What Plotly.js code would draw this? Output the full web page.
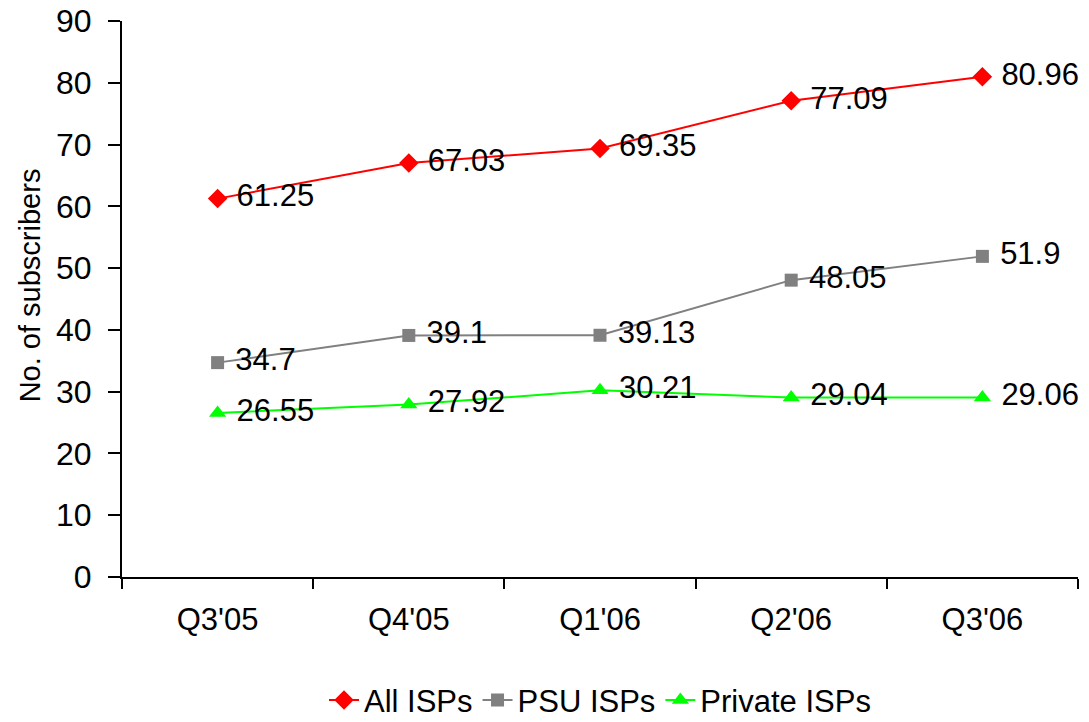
<!DOCTYPE html>
<html>
<head>
<meta charset="utf-8">
<script src="https://cdn.plot.ly/plotly-3.0.1.min.js"></script>
<style>html,body{margin:0;padding:0;background:#fff;}#chart{width:1089px;height:722px;}</style>
</head>
<body>
<div id="chart"></div>
<script>
var quarters = ["Q3'05", "Q4'05", "Q1'06", "Q2'06", "Q3'06"];
var allISPs = [61.25, 67.03, 69.35, 77.09, 80.96];
var psuISPs = [34.7, 39.1, 39.13, 48.05, 51.9];
var privateISPs = [26.55, 27.92, 30.21, 29.04, 29.06];
var yTicks = [0, 10, 20, 30, 40, 50, 60, 70, 80, 90];

var FONT = "Arial, 'Liberation Sans', sans-serif";

function series(name, vals, color, symbol, size) {
  return {
    type: 'scatter',
    mode: 'lines+markers+text',
    name: name,
    x: quarters,
    y: vals,
    text: vals.map(function (v) { return String(v); }),
    texttemplate: ' %{text}',
    textposition: 'middle right',
    textfont: {family: FONT, size: 31, color: '#000'},
    line: {color: color, width: 2},
    marker: {color: color, symbol: symbol, size: size},
    cliponaxis: false
  };
}

var data = [
  series('All ISPs', allISPs, '#FF0000', 'diamond', 15),
  series('PSU ISPs', psuISPs, '#808080', 'square', 13),
  series('Private ISPs', privateISPs, '#00FF00', 'triangle-up', 15)
];

var layout = {
  width: 1089,
  height: 722,
  margin: {l: 122, r: 11, t: 21, b: 145, autoexpand: false},
  paper_bgcolor: '#fff',
  plot_bgcolor: '#fff',
  font: {family: FONT, size: 30, color: '#000'},
  showlegend: true,
  legend: {
    orientation: 'h',
    x: 0.5, xanchor: 'center',
    y: -0.222, yanchor: 'middle',
    font: {family: FONT, size: 31, color: '#000'},
    traceorder: 'normal'
  },
  xaxis: {
    type: 'category',
    range: [-0.5, 4.5],
    showline: true, linecolor: '#000', linewidth: 2,
    showgrid: false, zeroline: false,
    ticks: 'outside', ticklen: 10, tickwidth: 2, tickcolor: '#000',
    tickson: 'boundaries',
    tickfont: {family: FONT, size: 31, color: '#000'},
    ticklabelstandoff: 14,
    automargin: false,
    fixedrange: true
  },
  yaxis: {
    range: [0, 90],
    tickvals: yTicks,
    ticktext: yTicks.map(String),
    showline: true, linecolor: '#000', linewidth: 2,
    showgrid: false, zeroline: false,
    ticks: 'outside', ticklen: 12, tickwidth: 2, tickcolor: '#000',
    tickfont: {family: FONT, size: 32, color: '#000'},
    ticklabelstandoff: 10,
    automargin: false,
    fixedrange: true
  },
  annotations: [{
    text: 'No. of subscribers',
    textangle: -90,
    xref: 'paper', yref: 'paper',
    x: -0.096, y: 0.525,
    xanchor: 'center', yanchor: 'middle',
    showarrow: false,
    font: {family: FONT, size: 29, color: '#000'}
  }]
};

Plotly.newPlot('chart', data, layout, {displayModeBar: false, staticPlot: true});
</script>
</body>
</html>
